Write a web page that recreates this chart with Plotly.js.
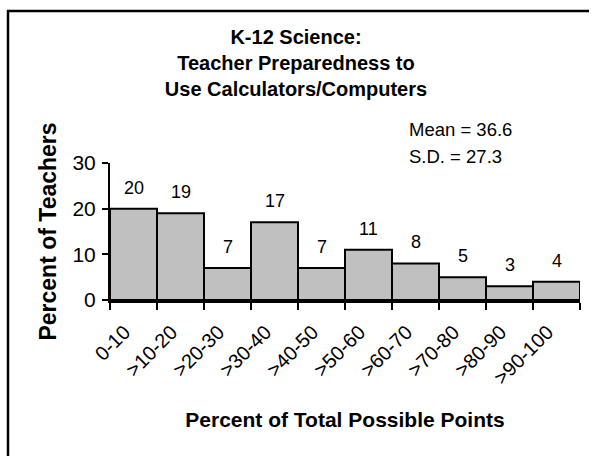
<!DOCTYPE html>
<html>
<head>
<meta charset="utf-8">
<script src="https://cdn.plot.ly/plotly-3.0.1.min.js"></script>
<style>html,body{margin:0;padding:0;background:#fff;overflow:hidden;}#chart{width:594px;height:456px;}</style>
</head>
<body>
<div id="chart"></div>
<script>
const categories = ["0-10", ">10-20", ">20-30", ">30-40", ">40-50", ">50-60", ">60-70", ">70-80", ">80-90", ">90-100"];
const percentTeachers = [20, 19, 7, 17, 7, 11, 8, 5, 3, 4];
const yTicks = [0, 10, 20, 30];
const statsLines = ["Mean = 36.6", "S.D. = 27.3"];
const titleLines = ["K-12 Science:", "Teacher Preparedness to", "Use Calculators/Computers"];

const FONT = "Liberation Sans, Arial, sans-serif";
const W = 594, H = 456;
const M = {l: 110, r: 14, t: 163, b: 156};
const PW = W - M.l - M.r, PH = H - M.t - M.b;
const px = x => (x - M.l) / PW;
const py = y => (H - M.b - y) / PH;

const valueAnnotations = categories.map((c, i) => ({
  x: c, y: percentTeachers[i], xref: 'x', yref: 'y',
  text: String(percentTeachers[i]), showarrow: false,
  yanchor: 'middle', yshift: 21,
  font: {family: FONT, size: 18, color: '#000'}
}));

const statsAnnotations = statsLines.map((t, i) => ({
  x: px(407), y: py(129 + i * 27), xref: 'paper', yref: 'paper',
  xanchor: 'left', yanchor: 'middle', text: t, showarrow: false,
  font: {family: FONT, size: 18.5, color: '#000'}
}));

const data = [{
  type: 'bar', x: categories, y: percentTeachers,
  marker: {color: '#c0c0c0', line: {color: '#000', width: 2}},
  hoverinfo: 'none'
}];

const layout = {
  width: W, height: H,
  margin: M,
  paper_bgcolor: '#fff', plot_bgcolor: '#fff',
  showlegend: false,
  bargap: 0,
  title: {
    text: titleLines.join('<br>'),
    x: 296 / W, xanchor: 'center', xref: 'container',
    y: 1 - 44 / H, yanchor: 'top', yref: 'container',
    font: {family: FONT, size: 20, weight: 'bold', color: '#000'}
  },
  xaxis: {
    type: 'category', range: [-0.5, 9.5],
    tickson: 'boundaries', ticks: 'outside', ticklen: 7, tickwidth: 2, tickcolor: '#000',
    tickangle: -45, tickfont: {family: FONT, size: 20, color: '#000'},
    ticklabelstandoff: 10, ticklabelshift: -9,
    showline: true, linecolor: '#000', linewidth: 2.5,
    showgrid: false, zeroline: false, fixedrange: true,
    title: {text: 'Percent of Total Possible Points', standoff: 25,
      font: {family: FONT, size: 21, weight: 'bold', color: '#000'}}
  },
  yaxis: {
    range: [0, 30], tickvals: yTicks, ticktext: yTicks.map(String),
    ticks: 'outside', ticklen: 6, tickwidth: 2, tickcolor: '#000',
    tickfont: {family: FONT, size: 21, color: '#000'},
    ticklabelstandoff: 2,
    showline: true, linecolor: '#000', linewidth: 2,
    showgrid: false, zeroline: false, fixedrange: true,
    title: {text: 'Percent of Teachers', standoff: 9,
      font: {family: FONT, size: 23, weight: 'bold', color: '#000'}}
  },
  annotations: valueAnnotations.concat(statsAnnotations),
  shapes: [
    {type: 'line', xref: 'paper', yref: 'paper', x0: px(7), x1: px(589), y0: py(11), y1: py(11),
     line: {color: '#000', width: 2.5}, layer: 'above'},
    {type: 'line', xref: 'paper', yref: 'paper', x0: px(8), x1: px(8), y0: py(10), y1: py(H + 40),
     line: {color: '#000', width: 2.5}, layer: 'above'}
  ]
};

Plotly.newPlot('chart', data, layout, {displayModeBar: false, staticPlot: true});
</script>
</body>
</html>
